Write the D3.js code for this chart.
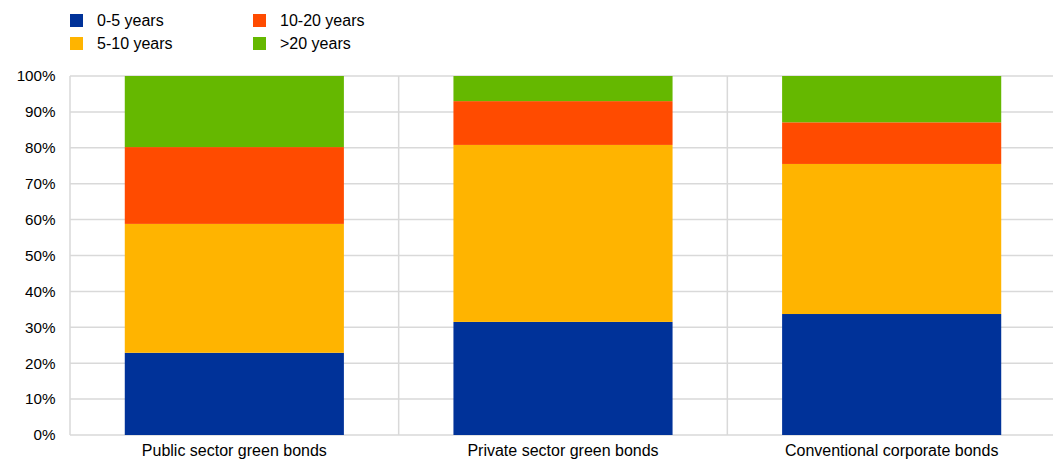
<!DOCTYPE html>
<html><head><meta charset="utf-8">
<script src="https://cdn.jsdelivr.net/npm/d3@7"></script>
<style>body{margin:0;background:#fff}svg{display:block}text{font-family:"Liberation Sans",Arial,sans-serif;fill:#000}</style>
</head><body>
<script>
const categories = ["Public sector green bonds","Private sector green bonds","Conventional corporate bonds"];
const seriesNames = ["0-5 years","5-10 years","10-20 years",">20 years"];
const s0_5 = [22.9, 31.5, 33.7];
const s5_10 = [35.9, 49.3, 41.8];
const s10_20 = [21.4, 12.2, 11.6];
const s20p = [19.8, 7.0, 12.9];
const colors = ["#003299","#FFB400","#FF4B00","#65B800"];
const yTicks = [0,10,20,30,40,50,60,70,80,90,100];

const W=1053,H=459;
const svg=d3.select("body").append("svg").attr("width",W).attr("height",H);
const x=d3.scaleBand().domain(categories).range([70,1056]).padding(0);
const y=d3.scaleLinear().domain([0,100]).range([435,76]);
const grid="#d9d9d9";

svg.append("g").selectAll("line").data(yTicks).join("line")
  .attr("x1",70).attr("x2",1056).attr("y1",d=>y(d)).attr("y2",d=>y(d))
  .attr("stroke",grid).attr("stroke-width",1.5);
const vx=categories.map(c=>x(c)).concat([x(categories[2])+x.bandwidth()]);
svg.append("g").selectAll("line").data(vx).join("line")
  .attr("x1",d=>d).attr("x2",d=>d).attr("y1",y(0)).attr("y2",y(100))
  .attr("stroke",grid).attr("stroke-width",1.5);

svg.append("g").selectAll("text").data(yTicks).join("text")
  .attr("x",55.5).attr("y",d=>y(d)).attr("dy","0.35em").attr("text-anchor","end")
  .attr("font-size",15.2).text(d=>d+"%");

const rows=categories.map((c,i)=>({cat:c,"0-5 years":s0_5[i],"5-10 years":s5_10[i],"10-20 years":s10_20[i],">20 years":s20p[i]}));
const stack=d3.stack().keys(seriesNames)(rows);
const bw=x.bandwidth()*2/3, off=x.bandwidth()/6;
svg.append("g").selectAll("g").data(stack).join("g").attr("fill",(d,i)=>colors[i])
  .selectAll("rect").data(d=>d).join("rect")
  .attr("x",d=>x(d.data.cat)+off).attr("width",bw)
  .attr("y",d=>y(d[1])).attr("height",d=>y(d[0])-y(d[1]));

svg.append("g").selectAll("text").data(categories).join("text")
  .attr("x",d=>x(d)+x.bandwidth()/2).attr("y",456).attr("text-anchor","middle")
  .attr("font-size",16).text(d=>d);

const lg=[{n:seriesNames[0],c:colors[0],x:70,y:14},{n:seriesNames[2],c:colors[2],x:253,y:14},
          {n:seriesNames[1],c:colors[1],x:70,y:37},{n:seriesNames[3],c:colors[3],x:253,y:37}];
const L=svg.append("g").selectAll("g").data(lg).join("g");
L.append("rect").attr("x",d=>d.x).attr("y",d=>d.y).attr("width",13).attr("height",13).attr("fill",d=>d.c);
L.append("text").attr("x",d=>d.x+27).attr("y",d=>d.y+6.5).attr("dy","0.35em").attr("font-size",16).text(d=>d.n);
</script>
</body></html>
